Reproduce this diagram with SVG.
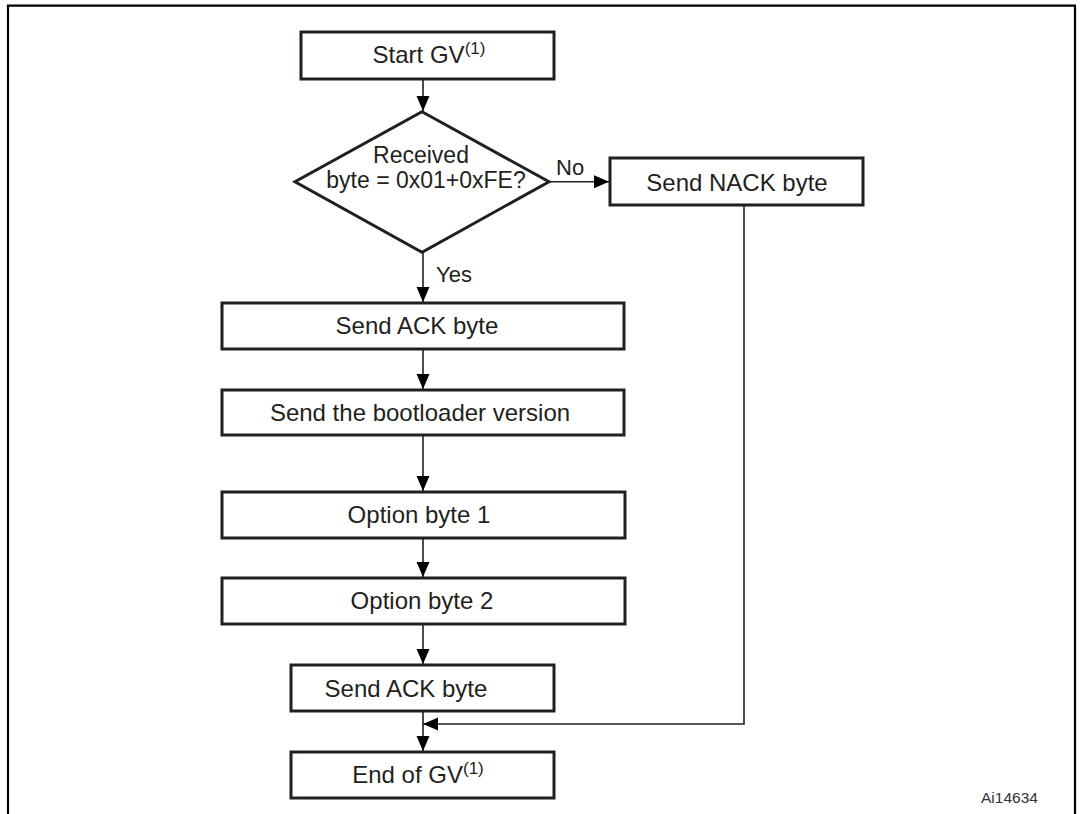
<svg xmlns="http://www.w3.org/2000/svg" width="1082" height="814" viewBox="0 0 1082 814">
<defs>
<style>
.box{fill:#fff;stroke:#231f20;stroke-width:3}
.t{font-family:"Liberation Sans",Arial,sans-serif;font-size:24px;fill:#231f20;text-anchor:middle}
.dt{font-family:"Liberation Sans",Arial,sans-serif;font-size:23px;fill:#231f20;text-anchor:middle}
.lbl{font-family:"Liberation Sans",Arial,sans-serif;font-size:22px;fill:#231f20}
.sup{font-size:17px}
.c{fill:none;stroke:#231f20;stroke-width:1.6}
.frame{fill:none;stroke:#000;stroke-width:2.2}
</style>
<marker id="ah" markerUnits="userSpaceOnUse" markerWidth="16" markerHeight="14" refX="15" refY="6.5" orient="auto">
<path d="M0,0 L15,6.5 L0,13 Z" fill="#000"/>
</marker>
</defs>
<rect width="1082" height="814" fill="#fff"/>
<path class="frame" d="M8,814 V5.7 H1075 V814"/>
<g id="connectors">
<line class="c" x1="423" y1="79" x2="423" y2="111" marker-end="url(#ah)"/>
<line class="c" x1="549" y1="181.7" x2="609" y2="181.7" marker-end="url(#ah)"/>
<line class="c" x1="423" y1="252" x2="423" y2="302" marker-end="url(#ah)"/>
<line class="c" x1="423" y1="349" x2="423" y2="389" marker-end="url(#ah)"/>
<line class="c" x1="423" y1="435" x2="423" y2="491" marker-end="url(#ah)"/>
<line class="c" x1="423" y1="538" x2="423" y2="577" marker-end="url(#ah)"/>
<line class="c" x1="423" y1="624" x2="423" y2="664" marker-end="url(#ah)"/>
<line class="c" x1="423" y1="711" x2="423" y2="751" marker-end="url(#ah)"/>
<path class="c" d="M744,205 V724 H423" marker-end="url(#ah)"/>
<text class="lbl" x="556" y="175">No</text>
<text class="lbl" x="436" y="282">Yes</text>
</g>
<g id="start">
<rect class="box" x="301" y="32" width="253" height="47"/>
<text class="t" x="429" y="63">Start GV<tspan class="sup" dy="-9">(1)</tspan></text>
</g>
<g id="decision">
<polygon class="box" points="422,111.7 549,181.7 422,252.3 295,181.7"/>
<text class="dt" x="421" y="163">Received</text>
<text class="dt" x="426" y="188">byte = 0x01+0xFE?</text>
</g>
<g id="nack">
<rect class="box" x="610" y="158" width="253" height="47"/>
<text class="t" x="737" y="190.5">Send NACK byte</text>
</g>
<g id="ack1">
<rect class="box" x="222" y="303" width="402" height="46"/>
<text class="t" x="417" y="334">Send ACK byte</text>
</g>
<g id="version">
<rect class="box" x="222" y="390" width="402" height="45"/>
<text class="t" x="420" y="420.5">Send the bootloader version</text>
</g>
<g id="opt1">
<rect class="box" x="222" y="492" width="403" height="46"/>
<text class="t" x="419" y="523">Option byte 1</text>
</g>
<g id="opt2">
<rect class="box" x="222" y="578" width="403" height="46"/>
<text class="t" x="422" y="609">Option byte 2</text>
</g>
<g id="ack2">
<rect class="box" x="291" y="665" width="263" height="46"/>
<text class="t" x="406" y="697">Send ACK byte</text>
</g>
<g id="end">
<rect class="box" x="291" y="752" width="263" height="46"/>
<text class="t" x="418" y="783">End of GV<tspan class="sup" dy="-9">(1)</tspan></text>
</g>
<text x="981" y="802.5" style="font-family:'Liberation Sans',Arial,sans-serif;font-size:15.5px;fill:#333">Ai14634</text>
</svg>
